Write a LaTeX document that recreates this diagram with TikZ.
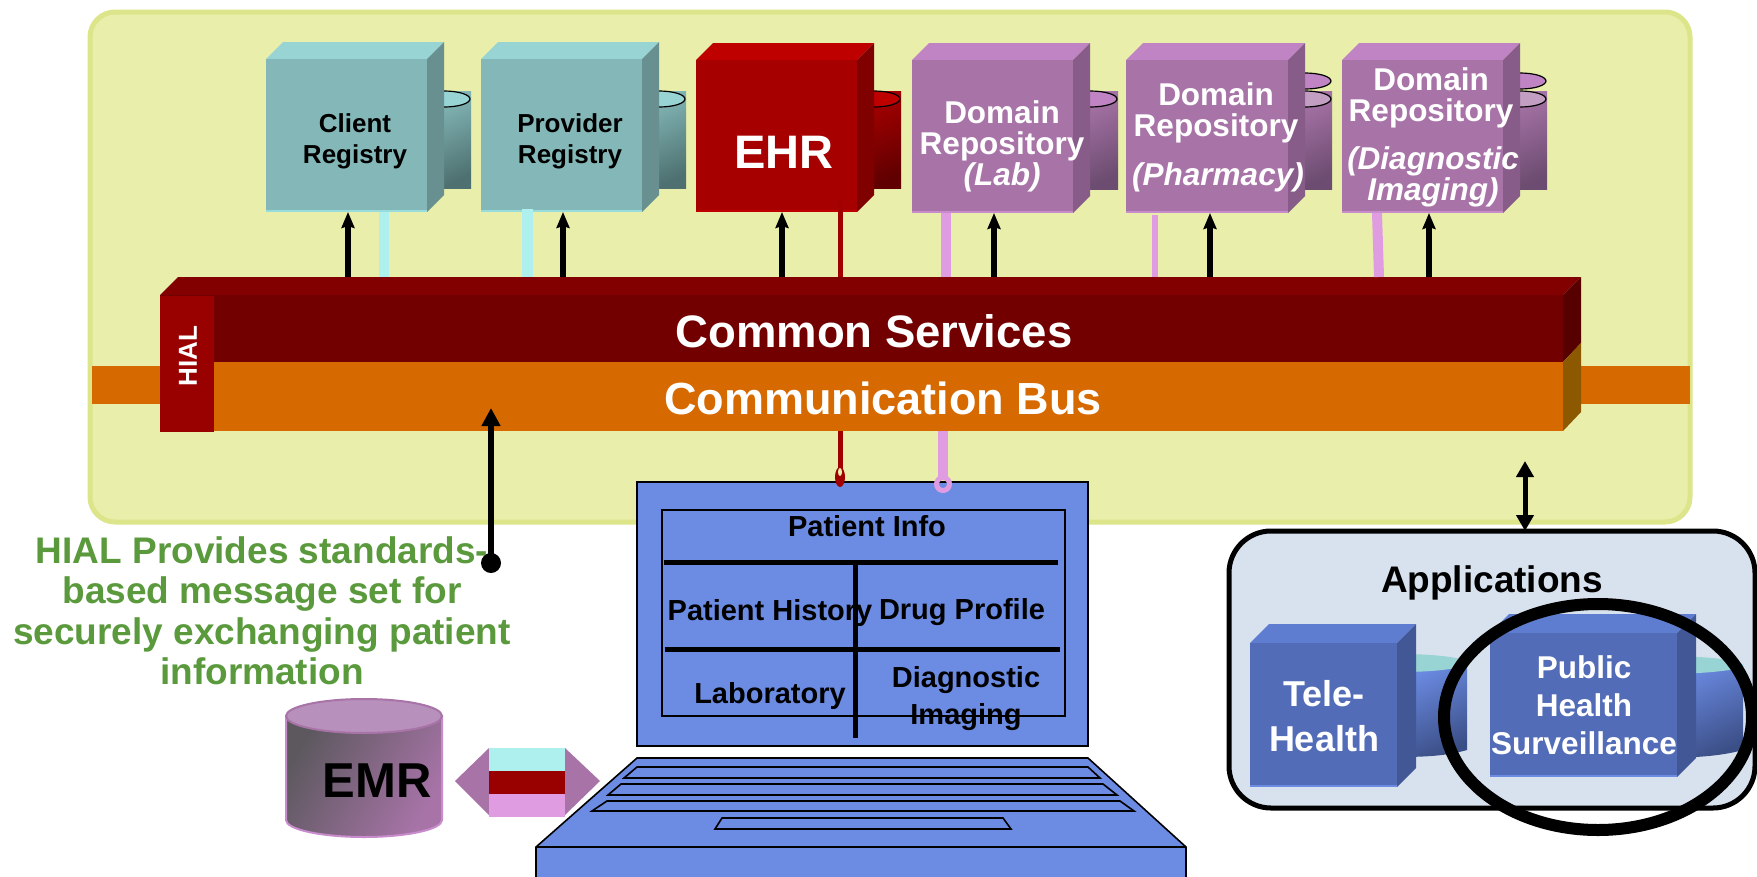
\documentclass[tikz,border=0pt]{standalone}
\usepackage{fontspec}
\setmainfont{Liberation Sans}
\usetikzlibrary{arrows.meta,shapes.geometric,calc}
\definecolor{yel}{HTML}{E9EEAB}
\definecolor{yelE}{HTML}{DDE58A}
\definecolor{tealF}{HTML}{84B8B8}
\definecolor{tealT}{HTML}{98D4D4}
\definecolor{tealS}{HTML}{689090}
\definecolor{tealE}{HTML}{98DCDC}
\definecolor{tealD}{HTML}{4E7070}
\definecolor{redF}{HTML}{A60000}
\definecolor{redT}{HTML}{BE0000}
\definecolor{redS}{HTML}{800000}
\definecolor{redE}{HTML}{C00000}
\definecolor{redD}{HTML}{600000}
\definecolor{purF}{HTML}{A874A8}
\definecolor{purT}{HTML}{C084C4}
\definecolor{purS}{HTML}{885C88}
\definecolor{purE}{HTML}{C88CCC}
\definecolor{purD}{HTML}{6C4C70}
\definecolor{bluF}{HTML}{526CB8}
\definecolor{bluT}{HTML}{5E7CD0}
\definecolor{bluS}{HTML}{425896}
\definecolor{bluE}{HTML}{6C8CE4}
\definecolor{scr}{HTML}{6C8CE4}
\definecolor{cyanl}{HTML}{AEF0EE}
\definecolor{pinkl}{HTML}{E09CE0}
\definecolor{darkr}{HTML}{A00000}
\definecolor{orng}{HTML}{D66A00}
\definecolor{orngS}{HTML}{8C5800}
\definecolor{csF}{HTML}{730000}
\definecolor{csT}{HTML}{820000}
\definecolor{csS}{HTML}{560000}
\definecolor{hial}{HTML}{990000}
\definecolor{appbg}{HTML}{D8E2EE}
\definecolor{grn}{HTML}{5A9A3C}
\definecolor{emrdk}{HTML}{5C585E}
\definecolor{emrtop}{HTML}{B890BC}
\newcommand\cubeface[7]{%
  \fill[#7T] (#2,#4) -- ($(#2,#4)+(#6,-#6)$) -- ($(#3,#4)+(#6,-#6)$) -- (#3,#4) -- cycle;
  \fill[#7S] (#3,#4) -- ($(#3,#4)+(#6,-#6)$) -- ($(#3,#5)+(#6,-#6)$) -- (#3,#5) -- cycle;
  \node[anchor=north west,inner sep=0pt,outer sep=0pt,minimum width={#3-#2},minimum height={#5-#4},fill=#7F] (#1) at (#2,#4) {};
  \fill[#7E] (#2,#5-2) rectangle (#3,#5);
}
\newcommand\dbbody[5]{%
  \shade[top color=#5F,middle color=#5F,bottom color=#5D,shading angle=25] (#1,#3) rectangle (#2,#4);
}
\newcommand\dbtop[4]{%
  \filldraw[fill=#4,draw=black,line width=1.2] (#1,#2) ellipse [x radius=#3,y radius=8];
}
\tikzset{
  fs/.style 2 args={font=\fontsize{#1}{#2}\selectfont\bfseries},
  lbl/.style={inner sep=0pt,outer sep=0pt,align=center},
  upar/.style={line width=6,draw=black,-{Stealth[length=16pt,width=13pt,inset=2pt]}},
  link/.style={line width=#1,line cap=butt},
  scrline/.style={line width=5,draw=black},
  kbd/.style={draw=black,line width=1.6,fill=scr,line join=miter},
  bigar/.style={line width=6,draw=black,-{Triangle[length=18pt,width=18pt]}},
  box/.style={anchor=north west,inner sep=0pt,outer sep=0pt},
}
\begin{document}
\begin{tikzpicture}[x=1pt,y=-1pt]
\useasboundingbox (0,0) rectangle (1757,876);
\fill[white] (0,0) rectangle (1757,876);
% platform
\filldraw[fill=yel,draw=yelE,line width=5,rounded corners=25] (90,12) rectangle (1690,522);
\node[box,minimum width=1598,minimum height=38,fill=orng] (strip) at (92,366) {};
% databases
\dbbody{430}{471}{91}{188}{teal}\dbtop{444}{99}{26}{tealT}
\dbbody{640}{686}{91}{188}{teal}\dbtop{659}{99}{26}{tealT}
\dbbody{860}{901}{91}{188}{red}\dbtop{874}{99}{26}{redT}
\dbbody{1075}{1118}{91}{189}{pur}\dbtop{1090}{99}{27}{purT}
\dbbody{1290}{1332}{91}{189}{pur}\dbtop{1305}{81}{26}{purT}\dbtop{1305}{99}{26}{purF!70!white}
\dbbody{1505}{1547}{91}{189}{pur}\dbtop{1520}{81}{26}{purT}\dbtop{1520}{99}{26}{purF!70!white}
% cubes
\cubeface{client}{266}{427}{59}{212}{17}{teal}
\cubeface{provider}{481}{642}{59}{212}{17}{teal}
\cubeface{ehr}{696}{857}{60}{212}{17}{red}
\cubeface{lab}{912}{1073}{60}{213}{17}{pur}
\cubeface{pharm}{1126}{1288}{60}{213}{17}{pur}
\cubeface{diag}{1342}{1503}{60}{213}{17}{pur}
% bus
\fill[csT] (160,295) -- (178,277) -- (1581,277) -- (1563,295) -- cycle;
\fill[csS] (1563,295) -- (1581,277) -- (1581,343) -- (1563,362) -- cycle;
\fill[orngS] (1563,362) -- (1581,343) -- (1581,412) -- (1563,431) -- cycle;
\node[box,minimum width=1403,minimum height=67,fill=csF] (cs) at (160,295) {};
\node[box,minimum width=1403,minimum height=69,fill=orng] (bus) at (160,362) {};
\node[box,minimum width=54,minimum height=136,fill=hial] (hialbox) at (160,296) {};
\node[lbl,rotate=90,text=white,fs={26}{30}] (hiallbl) at (188,356) {HIAL};
\node[lbl,text=white,fs={45.5}{50}] (cslbl) at (874,331) {Common Services};
\node[lbl,text=white,fs={45}{50}] (buslbl) at (883,398) {Communication Bus};
% connectors to the bus
\coordinate (cstop) at (870,277);
\coordinate (ehrin) at (840,201);
\draw[link=10,cyanl] (cstop -| 384,0) -- (client.south -| 384,0);
\draw[link=11,cyanl] (cstop -| 527,0) -- (527,209);
\draw[link=5,darkr] (cstop -| 840,0) -- (ehrin);
\draw[link=10,pinkl] (cstop -| 946,0) -- (lab.south -| 946,0);
\draw[link=6,pinkl] (cstop -| 1155,0) -- (1155,215);
\draw[link=10,pinkl] (cstop -| 1379,0) -- (1377,213);
\draw[upar] (cstop -| 348,0) -- (client.south -| 348,0);
\draw[upar] (cstop -| 563,0) -- (provider.south -| 563,0);
\draw[upar] (cstop -| 782,0) -- (ehr.south -| 782,0);
\draw[upar] (cstop -| 994,0) -- (lab.south -| 994,0);
\draw[upar] (cstop -| 1210,0) -- (pharm.south -| 1210,0);
\draw[upar] (cstop -| 1429,0) -- (diag.south -| 1429,0);
% cube labels
\node[lbl,fs={26}{31}] (clientlbl) at (355,141) {Client\\Registry};
\node[lbl,fs={26}{31}] (providerlbl) at (570,141) {Provider\\Registry};
\node[lbl,text=white,fs={47}{50}] (ehrlbl) at (784,152) {EHR};
\node[lbl,text=white,fs={31.5}{31}] (lablbl) at (1002,146) {Domain\\Repository\\\itshape (Lab)};
\node[lbl,text=white,fs={31.5}{31}] (pharmlbl) at (1216,113) {Domain\\Repository};
\node[lbl,text=white,fs={31.5}{31}] (pharmlbl2) at (1218,177) {\itshape (Pharmacy)};
\node[lbl,text=white,fs={31.5}{31}] (diaglbl) at (1431,98) {Domain\\Repository};
\node[lbl,text=white,fs={31.5}{31}] (diaglbl2) at (1433,177) {\itshape (Diagnostic\\\itshape Imaging)};
% laptop stems
\draw[link=5,darkr] (bus.south -| 840,0) -- (840,470);
\draw[link=10,pinkl] (bus.south -| 943,0) -- (943,477);
% screen
\node[box,minimum width=451,minimum height=264,fill=scr,draw=black,line width=1.5] (screen) at (637,482) {};
\node[box,minimum width=403,minimum height=206,draw=black,line width=1.5] (pane) at (662,510) {};
\node[ellipse,inner sep=0pt,minimum width=10,minimum height=20,fill=darkr] (redend) at (840,477) {};
\fill[yel] (840,472) ellipse [x radius=2,y radius=4];
\node[circle,inner sep=0pt,minimum size=13,draw=pinkl,line width=5] (ring) at (943,484) {};
\draw[scrline] (664,562) -- (1058,562);
\draw[scrline] (665,649) -- (1060,649);
\draw[scrline] (855,562) -- (855,738);
\node[lbl,fs={29}{36}] (pinfo) at (867,526) {Patient Info};
\node[lbl,fs={29}{36}] (phist) at (770,613) {Patient History};
\node[lbl,fs={29}{36}] (drug) at (962,612) {Drug Profile};
\node[lbl,fs={29}{36}] (labr) at (770,696) {Laboratory};
\node[lbl,fs={29}{37}] (dimg) at (966,699) {Diagnostic\\Imaging};
% keyboard
\filldraw[kbd] (536,880) -- (536,847) -- (637,758) -- (1088,758) -- (1186,847) -- (1186,880) -- cycle;
\draw[black,line width=1.6] (536,847) -- (1186,847);
\filldraw[kbd] (637,767) -- (1088,767) -- (1100,778) -- (624,778) -- cycle;
\filldraw[kbd] (621,784) -- (1103,784) -- (1117,795) -- (608,795) -- cycle;
\filldraw[kbd] (607,801) -- (1120,801) -- (1134,811) -- (592,811) -- cycle;
\filldraw[kbd] (722,818) -- (1003,818) -- (1011,829) -- (715,829) -- cycle;
% EMR
\shade[left color=emrdk,right color=purF,shading angle=60,draw=purE,line width=2] (286,716) -- (286,820) arc[start angle=180,end angle=0,x radius=78,y radius=17] -- (442,716) -- cycle;
\filldraw[fill=emrtop,draw=purF,line width=2] (364,716) ellipse [x radius=78,y radius=17];
\node[lbl,fs={49}{50}] (emr) at (377,781) {EMR};
% message
\fill[purF] (455,781) -- (489,748) -- (489,815) -- cycle;
\fill[purF] (600,781) -- (565,748) -- (565,815) -- cycle;
\node[box,minimum width=76,minimum height=23,fill=cyanl] (mtop) at (489,748) {};
\node[box,minimum width=76,minimum height=23,fill=hial] (mmid) at (489,771) {};
\node[box,minimum width=76,minimum height=23,fill=pinkl] (mbot) at (489,794) {};
% HIAL note
\node[lbl,text=grn,fs={37}{40.5}] (note) at (262,611) {HIAL Provides standards-\\based message set for\\securely exchanging patient\\information};
\node[circle,inner sep=0pt,minimum size=20,fill=black] (dot) at (491,563) {};
\coordinate (busin) at (491,408);
\draw[bigar] (dot.center) -- (busin);
% applications
\node[box,minimum width=526,minimum height=277,fill=appbg,draw=black,line width=5,rounded corners=42] (apps) at (1229,531) {};
\coordinate (appsup) at (1525,461);
\draw[line width=5,draw=black,{Triangle[length=16pt,width=17pt]}-{Triangle[length=16pt,width=17pt]}] (appsup) -- (apps.north -| 1525,0);
\node[lbl,fs={37}{40}] (appslbl) at (1492,583) {Applications};
\shade[top color=bluE,middle color=bluE,bottom color=bluS!90!black,shading angle=25] (1400,663) -- (1467,663) -- (1467,750) .. controls (1450,755) and (1430,757) .. (1400,757) -- cycle;
\fill[tealT] (1400,663) ellipse [x radius=67,y radius=9];
\shade[top color=bluE,middle color=bluE,bottom color=bluS!90!black,shading angle=25] (1660,665) -- (1743,665) -- (1743,750) .. controls (1725,755) and (1700,758) .. (1660,758) -- cycle;
\fill[tealT] (1660,665) ellipse [x radius=83,y radius=9];
\cubeface{tele}{1250}{1397}{643}{787}{19}{blu}
\cubeface{pubh}{1490}{1677}{633}{777}{19}{blu}
\node[lbl,text=white,fs={36}{45}] (telelbl) at (1324,716) {Tele-\\Health};
\node[lbl,text=white,fs={31.5}{38}] (pubhlbl) at (1584,705) {Public\\Health\\Surveillance};
\node[ellipse,inner sep=0pt,minimum width=308,minimum height=226,draw=black,line width=12] (focus) at (1598,717) {};
\end{tikzpicture}
\end{document}
